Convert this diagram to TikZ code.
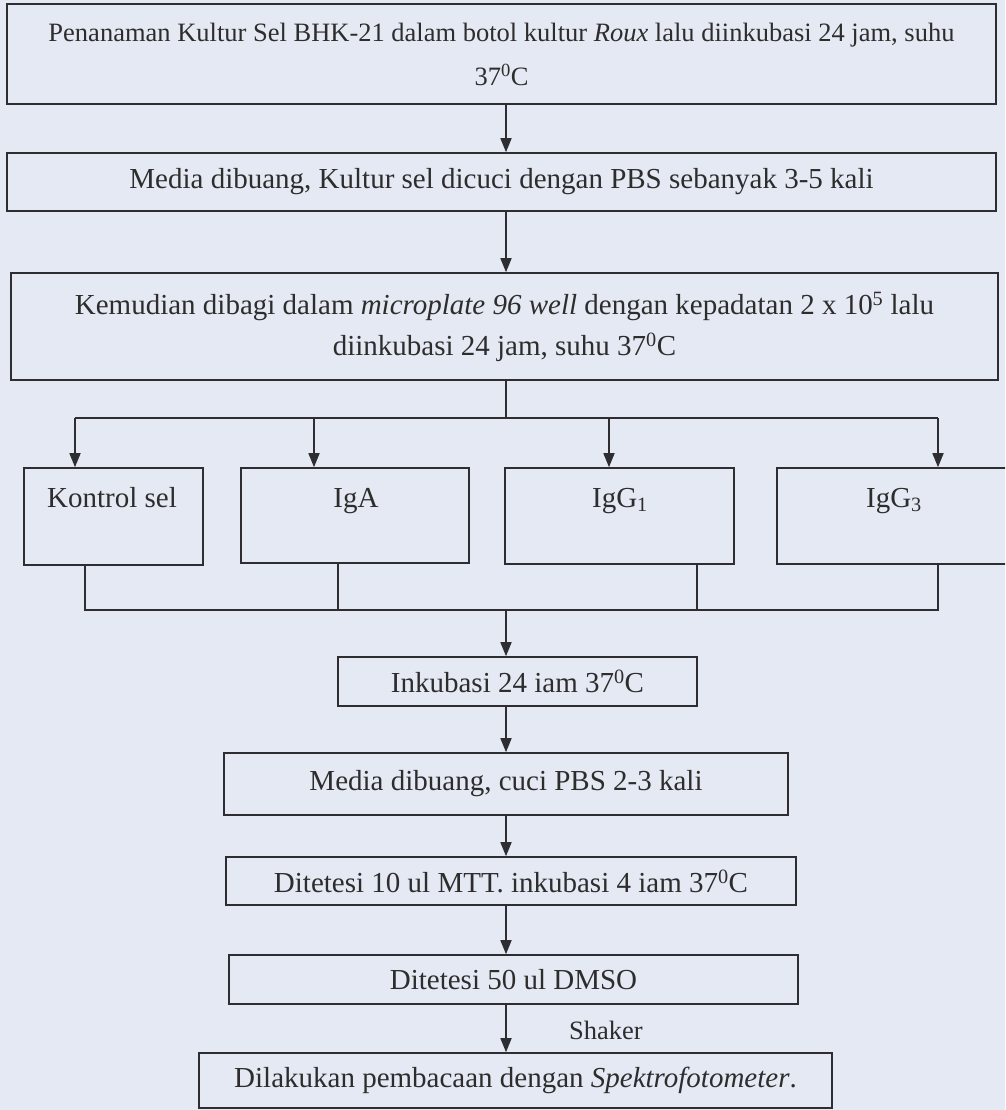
\documentclass[tikz,border=0pt]{standalone}
\usepackage{fontspec}
\setmainfont{Liberation Serif}
\usetikzlibrary{arrows.meta,calc}
\definecolor{bg}{RGB}{228,233,243}
\definecolor{lc}{RGB}{45,45,50}
\definecolor{tc}{RGB}{45,45,45}
\begin{document}
\begin{tikzpicture}[x=1pt,y=-1pt,
  box/.style={draw=lc, line width=1.6pt, inner sep=0pt, align=center, text=tc},
  lbl/.style={inner sep=0pt, text=tc, align=center},
  conn/.style={draw=lc, line width=1.6pt},
  arr/.style={conn, -{Triangle[length=14pt,width=11pt]}},
  big/.style={font=\fontsize{29}{41}\selectfont},
  topf/.style={font=\fontsize{26.5}{44}\selectfont},
  small/.style={font=\fontsize{26.5}{32}\selectfont}]
\fill[bg] (0,0) rectangle (1005,1110);
\clip (0,0) rectangle (1005,1110);
% main boxes
\node[box,topf,minimum width=989pt,minimum height=100pt] (b1) at (501.5,54)
  {Penanaman Kultur Sel BHK-21 dalam botol kultur \textit{Roux} lalu diinkubasi 24 jam, suhu\\37\textsuperscript{0}C};
\node[box,big,minimum width=989pt,minimum height=58pt] (b2) at (501.5,182)
  {Media dibuang, Kultur sel dicuci dengan PBS sebanyak 3-5 kali};
\node[box,big,minimum width=987pt,minimum height=107pt] (b3) at (504.5,326.5)
  {Kemudian dibagi dalam \textit{microplate 96 well} dengan kepadatan 2 x 10\textsuperscript{5} lalu\\diinkubasi 24 jam, suhu 37\textsuperscript{0}C};
% branch boxes
\node[box,minimum width=179pt,minimum height=97pt] (k1) at (113.5,516.5) {};
\node[box,minimum width=228pt,minimum height=95pt] (k2) at (355,515.5) {};
\node[box,minimum width=229pt,minimum height=96pt] (k3) at (619.5,516) {};
\node[box,minimum width=234pt,minimum height=96pt] (k4) at (894,516) {};
\node[lbl,big,anchor=base] (t1) at (112,507) {Kontrol sel};
\node[lbl,big,anchor=base] (t2) at (356,507) {IgA};
\node[lbl,big,anchor=base] (t3) at (620,507) {IgG\textsubscript{1}};
\node[lbl,big,anchor=base] (t4) at (894,507) {IgG\textsubscript{3}};
% lower boxes
\node[box,big,minimum width=359pt,minimum height=49pt] (b4) at (517.5,681.5) {Inkubasi 24 iam 37\textsuperscript{0}C};
\node[box,big,minimum width=564pt,minimum height=62pt] (b5) at (506,784) {Media dibuang, cuci PBS 2-3 kali};
\node[box,big,minimum width=570pt,minimum height=48pt] (b6) at (511,881) {Ditetesi 10 ul MTT. inkubasi 4 iam 37\textsuperscript{0}C};
\node[box,big,minimum width=569pt,minimum height=49pt] (b7) at (513.5,979.5) {Ditetesi 50 ul DMSO};
\node[box,big,minimum width=633pt,minimum height=55pt] (b8) at (515.5,1080.5) {Dilakukan pembacaan dengan \textit{Spektrofotometer}.};
\node[lbl,small] (sh) at (606,1030) {Shaker};
% connectors
\coordinate (sp) at (506,0);
\draw[arr] (b1.south -| sp) -- (b2.north -| sp);
\draw[arr] (b2.south -| sp) -- (b3.north -| sp);
\coordinate (br) at (506,418);
\coordinate (a1) at (75,418);
\coordinate (a2) at (314,418);
\coordinate (a3) at (609,418);
\coordinate (a4) at (938,418);
\draw[conn] (b3.south -| sp) -- (br);
\draw[conn] (a1) -- (a4);
\draw[arr] (a1) -- (a1 |- k1.north);
\draw[arr] (a2) -- (a2 |- k2.north);
\draw[arr] (a3) -- (a3 |- k3.north);
\draw[arr] (a4) -- (a4 |- k4.north);
\coordinate (m1) at (85,610);
\coordinate (m2) at (338,610);
\coordinate (m3) at (697,610);
\coordinate (m4) at (938,610);
\coordinate (mc) at (506,610);
\draw[conn] (k1.south -| m1) -- (m1) -- (m4) -- (k4.south -| m4);
\draw[conn] (k2.south -| m2) -- (m2);
\draw[conn] (k3.south -| m3) -- (m3);
\draw[arr] (mc) -- (b4.north -| mc);
\draw[arr] (b4.south -| sp) -- (b5.north -| sp);
\draw[arr] (b5.south -| sp) -- (b6.north -| sp);
\draw[arr] (b6.south -| sp) -- (b7.north -| sp);
\draw[arr] (b7.south -| sp) -- (b8.north -| sp);
\end{tikzpicture}
\end{document}
